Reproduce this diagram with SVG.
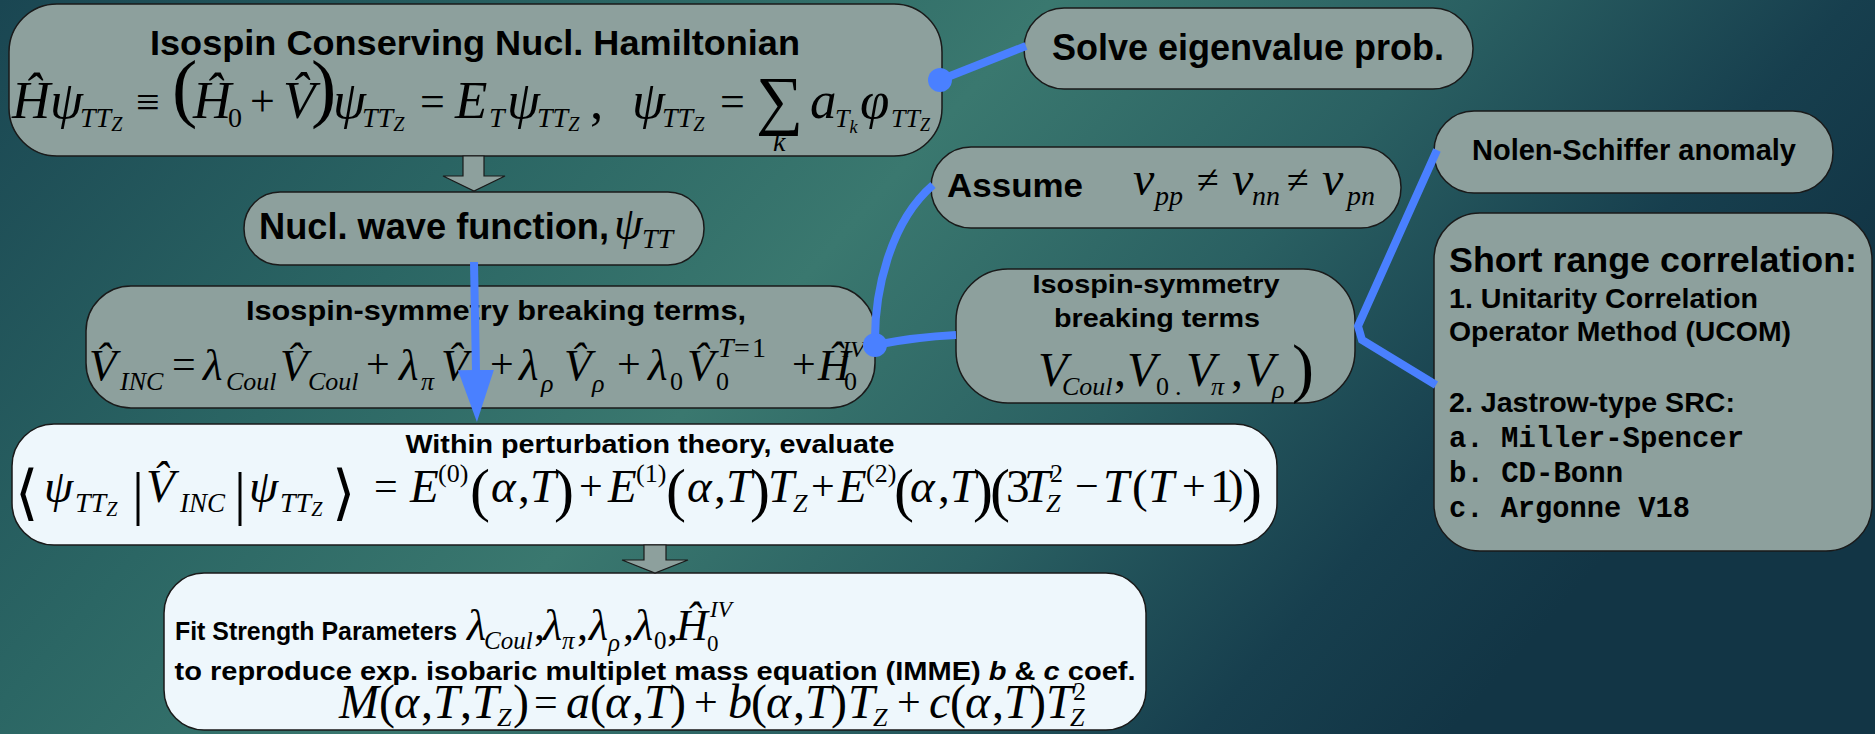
<svg xmlns="http://www.w3.org/2000/svg" width="1875" height="734" viewBox="0 0 1875 734">
<defs>
<linearGradient id="bg" x1="0" y1="0" x2="1" y2="0.35">
<stop offset="0" stop-color="#1a4652"/>
<stop offset="0.3" stop-color="#2b6664"/>
<stop offset="0.5" stop-color="#3a786f"/>
<stop offset="0.7" stop-color="#2a6062"/>
<stop offset="0.88" stop-color="#173f4e"/>
<stop offset="1" stop-color="#123545"/>
</linearGradient>
<marker id="bluehead" markerUnits="userSpaceOnUse" markerWidth="52" markerHeight="36" refX="2" refY="18" orient="auto" viewBox="0 0 52 36">
<polygon points="0,0 52,18 0,36" fill="#4a80ff"/>
</marker>
<style>
.box{fill:#8da09d;stroke:#1a1a1a;stroke-width:1.5}
.lbox{fill:#eef7fc;stroke:#1a1a1a;stroke-width:1.5}
.garrow{fill:#8da09d;stroke:#1a1a1a;stroke-width:1.2}
.t{font-family:"Liberation Sans",Arial,sans-serif;font-weight:bold;fill:#000}
.mono{font-family:"Liberation Mono","Courier New",monospace;font-weight:bold;fill:#000}
.m{font-family:"Liberation Serif","Times New Roman",serif;font-style:italic;fill:#000}
.u{font-family:"Liberation Serif","Times New Roman",serif;font-style:normal}
.br{font-family:"DejaVu Serif","DejaVu Sans",serif;font-style:normal}
.conn{stroke:#4a80ff;stroke-width:8;fill:none;stroke-linecap:butt}
.dot{fill:#4a80ff}
</style>
</defs>
<rect x="0" y="0" width="1875" height="734" fill="url(#bg)"/>

<g id="n-hamiltonian">
<rect class="box" x="9" y="4" width="933" height="152" rx="48" ry="48"/>
<text class="t" x="475" y="55" font-size="35" text-anchor="middle" textLength="650" lengthAdjust="spacingAndGlyphs">Isospin Conserving Nucl. Hamiltonian</text>
<text class="m" font-size="53">
<tspan x="12" y="118">Ĥ</tspan><tspan x="50" y="118">ψ</tspan><tspan x="80" y="127" font-size="28">TT</tspan><tspan y="131" font-size="20">Z</tspan>
<tspan class="u" x="136" y="116" font-size="42">≡</tspan>
<tspan class="u" x="172" y="113" font-size="76">(</tspan>
<tspan x="193" y="118">Ĥ</tspan><tspan class="u" x="228" y="127" font-size="28">0</tspan>
<tspan class="u" x="250" y="116" font-size="44">+</tspan>
<tspan x="283" y="118">V̂</tspan>
<tspan class="u" x="311" y="113" font-size="76">)</tspan>
<tspan x="333" y="118">ψ</tspan><tspan x="362" y="127" font-size="28">TT</tspan><tspan y="131" font-size="20">Z</tspan>
<tspan class="u" x="420" y="116" font-size="44">=</tspan>
<tspan x="455" y="118">E</tspan><tspan x="489" y="127" font-size="28">T</tspan>
<tspan x="507" y="118">ψ</tspan><tspan x="537" y="127" font-size="28">TT</tspan><tspan y="131" font-size="20">Z</tspan>
<tspan class="u" x="590" y="118">,</tspan>
<tspan x="632" y="118">ψ</tspan><tspan x="662" y="127" font-size="28">TT</tspan><tspan y="131" font-size="20">Z</tspan>
<tspan class="u" x="720" y="116" font-size="44">=</tspan>
<tspan class="u" x="756" y="122" font-size="66">∑</tspan>
<tspan x="773" y="151" font-size="28">k</tspan>
<tspan x="810" y="118">a</tspan><tspan x="835" y="127" font-size="26">T</tspan><tspan y="133" font-size="18">k</tspan>
<tspan x="860" y="118">φ</tspan><tspan x="891" y="127" font-size="26">TT</tspan><tspan y="131" font-size="18">Z</tspan>
</text>
</g>

<g id="n-solve">
<rect class="box" x="1024" y="8" width="449" height="81" rx="40" ry="40"/>
<text class="t" x="1248" y="60" font-size="36" text-anchor="middle" textLength="392" lengthAdjust="spacingAndGlyphs">Solve eigenvalue prob.</text>
</g>

<g id="n-wave">
<rect class="box" x="244" y="192" width="460" height="73" rx="36" ry="36"/>
<text class="t" x="259" y="239" font-size="36" textLength="350" lengthAdjust="spacingAndGlyphs">Nucl. wave function,</text>
<text class="m" font-size="46"><tspan x="614" y="239">ψ</tspan><tspan x="642" y="248" font-size="28">TT</tspan></text>
</g>

<g id="n-vinc">
<rect class="box" x="86" y="286" width="789" height="122" rx="45" ry="45"/>
<text class="t" x="496" y="320" font-size="27" text-anchor="middle" textLength="500" lengthAdjust="spacingAndGlyphs">Isospin-symmetry breaking terms,</text>
<text class="m" font-size="45">
<tspan x="89" y="380">V̂</tspan><tspan x="120" y="390" font-size="26">INC</tspan>
<tspan class="u" x="172" y="378" font-size="42">=</tspan>
<tspan x="203" y="380">λ</tspan><tspan x="226" y="390" font-size="26">Coul</tspan>
<tspan x="280" y="380">V̂</tspan><tspan x="308" y="390" font-size="26">Coul</tspan>
<tspan class="u" x="366" y="378" font-size="42">+</tspan>
<tspan x="399" y="380">λ</tspan><tspan x="421" y="390" font-size="26">π</tspan>
<tspan x="441" y="380">V̂</tspan><tspan x="468" y="390" font-size="26">π</tspan>
<tspan class="u" x="490" y="378" font-size="42">+</tspan>
<tspan x="519" y="380">λ</tspan><tspan x="541" y="392" font-size="26">ρ</tspan>
<tspan x="564" y="380">V̂</tspan><tspan x="592" y="392" font-size="26">ρ</tspan>
<tspan class="u" x="617" y="378" font-size="42">+</tspan>
<tspan x="648" y="380">λ</tspan><tspan class="u" x="670" y="390" font-size="26">0</tspan>
<tspan x="687" y="380">V̂</tspan><tspan x="718" y="357" font-size="28">T</tspan><tspan class="u" x="734" y="357" font-size="28">=</tspan><tspan class="u" x="752" y="357" font-size="28">1</tspan><tspan class="u" x="716" y="390" font-size="26">0</tspan>
<tspan class="u" x="792" y="378" font-size="42">+</tspan>
<tspan x="818" y="380">Ĥ</tspan><tspan x="842" y="357" font-size="24">IV</tspan><tspan class="u" x="844" y="390" font-size="26">0</tspan>
</text>
</g>

<g id="n-assume">
<rect class="box" x="931" y="147" width="470" height="81" rx="40" ry="40"/>
<text class="t" x="947" y="197" font-size="34" textLength="136" lengthAdjust="spacingAndGlyphs">Assume</text>
<text class="m" font-size="48">
<tspan x="1133" y="195">v</tspan><tspan x="1155" y="205" font-size="28">pp</tspan>
<tspan class="u" x="1197" y="193" font-size="40">≠</tspan>
<tspan x="1232" y="195">v</tspan><tspan x="1252" y="205" font-size="28">nn</tspan>
<tspan class="u" x="1287" y="193" font-size="40">≠</tspan>
<tspan x="1322" y="195">v</tspan><tspan x="1347" y="205" font-size="28">pn</tspan>
</text>
</g>

<g id="n-nolen">
<rect class="box" x="1434" y="111" width="399" height="82" rx="40" ry="40"/>
<text class="t" x="1634" y="160" font-size="29" text-anchor="middle" textLength="324" lengthAdjust="spacingAndGlyphs">Nolen-Schiffer anomaly</text>
</g>

<g id="n-isobreak">
<rect class="box" x="956" y="269" width="399" height="134" rx="52" ry="52"/>
<text class="t" x="1156" y="293" font-size="26" text-anchor="middle" textLength="247" lengthAdjust="spacingAndGlyphs">Isospin-symmetry</text>
<text class="t" x="1157" y="327" font-size="26" text-anchor="middle" textLength="206" lengthAdjust="spacingAndGlyphs">breaking terms</text>
<text class="m" font-size="48">
<tspan x="1038" y="386">V</tspan><tspan x="1062" y="395" font-size="26">Coul</tspan>
<tspan class="u" x="1114" y="386">,</tspan>
<tspan x="1127" y="386">V</tspan><tspan class="u" x="1156" y="395" font-size="26">0</tspan>
<tspan class="u" x="1175" y="395" font-size="26">.</tspan>
<tspan x="1186" y="386">V</tspan><tspan x="1211" y="395" font-size="26">π</tspan>
<tspan class="u" x="1231" y="386">,</tspan>
<tspan x="1245" y="386">V</tspan><tspan x="1272" y="398" font-size="26">ρ</tspan>
<tspan class="u" x="1292" y="390" font-size="66">)</tspan>
</text>
</g>

<g id="n-src">
<rect class="box" x="1434" y="213" width="438" height="338" rx="46" ry="46"/>
<text class="t" x="1449" y="272" font-size="35" textLength="408" lengthAdjust="spacingAndGlyphs">Short range correlation:</text>
<text class="t" x="1449" y="308" font-size="28" textLength="309" lengthAdjust="spacingAndGlyphs">1. Unitarity Correlation</text>
<text class="t" x="1449" y="341" font-size="28" textLength="342" lengthAdjust="spacingAndGlyphs">Operator Method (UCOM)</text>
<text class="t" x="1449" y="412" font-size="28" textLength="286" lengthAdjust="spacingAndGlyphs">2. Jastrow-type SRC:</text>
<text class="mono" x="1449" y="447" font-size="29" textLength="295" lengthAdjust="spacingAndGlyphs">a. Miller-Spencer</text>
<text class="mono" x="1449" y="482" font-size="29">b. CD-Bonn</text>
<text class="mono" x="1449" y="517" font-size="29" textLength="241" lengthAdjust="spacingAndGlyphs">c. Argonne V18</text>
</g>

<g id="n-within">
<rect class="lbox" x="12" y="424" width="1265" height="121" rx="42" ry="42"/>
<text class="t" x="650" y="453" font-size="26" text-anchor="middle" textLength="489" lengthAdjust="spacingAndGlyphs">Within perturbation theory, evaluate</text>
<text class="m" font-size="47">
<tspan class="br" x="15" y="513" font-size="60">⟨</tspan>
<tspan x="44" y="502">ψ</tspan><tspan x="75" y="512" font-size="28">TT</tspan><tspan y="516" font-size="20">Z</tspan>
<tspan class="u" x="132" y="513" font-size="60">|</tspan>
<tspan x="146" y="502">V̂</tspan><tspan x="180" y="512" font-size="27">INC</tspan>
<tspan class="u" x="234" y="513" font-size="60">|</tspan>
<tspan x="249" y="502">ψ</tspan><tspan x="280" y="512" font-size="28">TT</tspan><tspan y="516" font-size="20">Z</tspan>
<tspan class="br" x="332" y="513" font-size="60">⟩</tspan>
<tspan class="u" x="374" y="500" font-size="42">=</tspan>
<tspan x="410" y="502">E</tspan><tspan class="u" x="438" y="482" font-size="26">(0)</tspan>
<tspan class="u" x="470" y="510" font-size="60">(</tspan><tspan x="491" y="502">α</tspan><tspan class="u" x="518" y="502">,</tspan><tspan x="530" y="502">T</tspan><tspan class="u" x="554" y="510" font-size="60">)</tspan>
<tspan class="u" x="579" y="500" font-size="42">+</tspan>
<tspan x="608" y="502">E</tspan><tspan class="u" x="636" y="482" font-size="26">(1)</tspan>
<tspan class="u" x="666" y="510" font-size="60">(</tspan><tspan x="687" y="502">α</tspan><tspan class="u" x="714" y="502">,</tspan><tspan x="726" y="502">T</tspan><tspan class="u" x="750" y="510" font-size="60">)</tspan>
<tspan x="768" y="502">T</tspan><tspan x="793" y="512" font-size="26">Z</tspan>
<tspan class="u" x="811" y="500" font-size="42">+</tspan>
<tspan x="838" y="502">E</tspan><tspan class="u" x="866" y="482" font-size="26">(2)</tspan>
<tspan class="u" x="894" y="510" font-size="60">(</tspan><tspan x="910" y="502">α</tspan><tspan class="u" x="938" y="502">,</tspan><tspan x="950" y="502">T</tspan><tspan class="u" x="973" y="510" font-size="60">)</tspan>
<tspan class="u" x="990" y="510" font-size="60">(</tspan><tspan class="u" x="1006" y="502">3</tspan><tspan x="1024" y="502">T</tspan><tspan x="1046" y="512" font-size="26">Z</tspan><tspan class="u" x="1050" y="482" font-size="26">2</tspan>
<tspan class="u" x="1075" y="500" font-size="42">−</tspan>
<tspan x="1103" y="502">T</tspan><tspan class="u" x="1132" y="502">(</tspan><tspan x="1148" y="502">T</tspan><tspan class="u" x="1182" y="500" font-size="42">+</tspan><tspan class="u" x="1210" y="502">1</tspan><tspan class="u" x="1228" y="502">)</tspan><tspan class="u" x="1242" y="510" font-size="60">)</tspan>
</text>
</g>

<g id="n-fit">
<rect class="lbox" x="164" y="573" width="982" height="157" rx="40" ry="40"/>
<text class="t" x="175" y="640" font-size="26" textLength="282" lengthAdjust="spacingAndGlyphs">Fit Strength Parameters</text>
<text class="m" font-size="44">
<tspan x="467" y="640">λ</tspan><tspan x="484" y="649" font-size="25">Coul</tspan>
<tspan class="u" x="534" y="640">,</tspan>
<tspan x="543" y="640">λ</tspan><tspan x="562" y="649" font-size="25">π</tspan>
<tspan class="u" x="577" y="640">,</tspan>
<tspan x="589" y="640">λ</tspan><tspan x="608" y="651" font-size="25">ρ</tspan>
<tspan class="u" x="623" y="640">,</tspan>
<tspan x="634" y="640">λ</tspan><tspan class="u" x="654" y="649" font-size="25">0</tspan>
<tspan class="u" x="667" y="640">,</tspan>
<tspan x="676" y="640">Ĥ</tspan><tspan x="710" y="617" font-size="23">IV</tspan><tspan class="u" x="707" y="651" font-size="23">0</tspan>
</text>
<text class="t" x="655" y="680" font-size="25" text-anchor="middle" textLength="961" lengthAdjust="spacingAndGlyphs">to reproduce exp. isobaric multiplet mass equation (IMME) <tspan font-style="italic">b</tspan> &amp; <tspan font-style="italic">c</tspan> coef.</text>
<text class="m" font-size="48">
<tspan x="339" y="718">M</tspan><tspan class="u" x="379" y="718">(</tspan><tspan x="394" y="718">α</tspan><tspan class="u" x="421" y="718">,</tspan><tspan x="433" y="718">T</tspan><tspan class="u" x="460" y="718">,</tspan><tspan x="472" y="718">T</tspan><tspan x="497" y="726" font-size="26">Z</tspan><tspan class="u" x="513" y="718">)</tspan>
<tspan class="u" x="534" y="716" font-size="42">=</tspan>
<tspan x="566" y="718">a</tspan><tspan class="u" x="590" y="718">(</tspan><tspan x="605" y="718">α</tspan><tspan class="u" x="632" y="718">,</tspan><tspan x="644" y="718">T</tspan><tspan class="u" x="670" y="718">)</tspan>
<tspan class="u" x="694" y="716" font-size="42">+</tspan>
<tspan x="728" y="718">b</tspan><tspan class="u" x="751" y="718">(</tspan><tspan x="766" y="718">α</tspan><tspan class="u" x="793" y="718">,</tspan><tspan x="805" y="718">T</tspan><tspan class="u" x="831" y="718">)</tspan><tspan x="848" y="718">T</tspan><tspan x="873" y="726" font-size="26">Z</tspan>
<tspan class="u" x="897" y="716" font-size="42">+</tspan>
<tspan x="929" y="718">c</tspan><tspan class="u" x="950" y="718">(</tspan><tspan x="965" y="718">α</tspan><tspan class="u" x="992" y="718">,</tspan><tspan x="1004" y="718">T</tspan><tspan class="u" x="1030" y="718">)</tspan><tspan x="1046" y="718">T</tspan><tspan x="1070" y="726" font-size="26">Z</tspan><tspan class="u" x="1073" y="700" font-size="26">2</tspan>
</text>
</g>

<g id="connectors">
<polygon class="garrow" points="463,156 484,156 484,176 505,176 474,191 443,176 463,176"/>
<polygon class="garrow" points="644,545 666,545 666,560 688,560 655,573 622,560 644,560"/>
<path class="conn" d="M940,80 L1026,46"/>
<circle class="dot" cx="940" cy="80" r="12"/>
<path class="conn" d="M474,262 L476,372" marker-end="url(#bluehead)"/>
<path class="conn" d="M875,345 C874,292 890,222 933,185"/>
<path class="conn" d="M875,345 Q915,337 956,335"/>
<circle class="dot" cx="875" cy="345" r="12"/>
<path class="conn" d="M1437,150 L1358,326 L1362,340 L1436,385"/>
</g>
</svg>
